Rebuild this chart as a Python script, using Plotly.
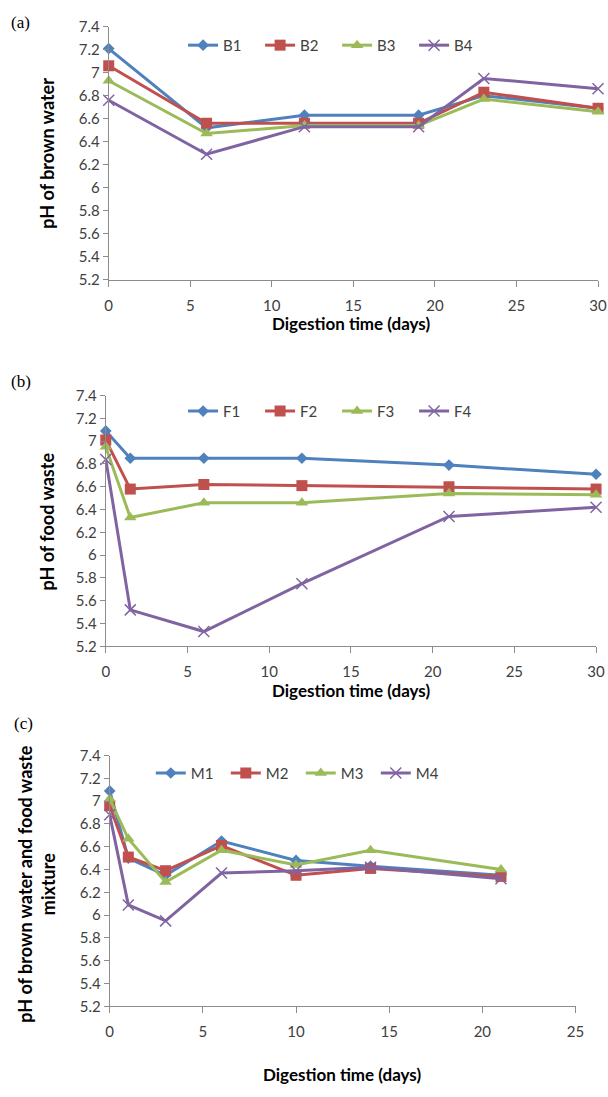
import plotly.graph_objects as go

W, H = 608, 1097

# ---------------- data ----------------
days_a = [0, 6, 12, 19, 23, 30]
B1 = [7.21, 6.52, 6.63, 6.63, 6.80, 6.69]
B2 = [7.06, 6.56, 6.56, 6.56, 6.83, 6.69]
B3 = [6.93, 6.47, 6.54, 6.54, 6.77, 6.66]
B4 = [6.76, 6.29, 6.53, 6.53, 6.95, 6.86]

days_b = [0, 1.5, 6, 12, 21, 30]
F1 = [7.09, 6.85, 6.85, 6.85, 6.79, 6.71]
F2 = [7.01, 6.58, 6.62, 6.61, 6.60, 6.58]
F3 = [6.95, 6.33, 6.46, 6.46, 6.54, 6.53]
F4 = [6.84, 5.52, 5.33, 5.75, 6.34, 6.42]

days_c = [0, 1, 3, 6, 10, 14, 21]
M1 = [7.09, 6.50, 6.35, 6.65, 6.48, 6.43, 6.35]
M2 = [6.96, 6.51, 6.39, 6.61, 6.35, 6.41, 6.34]
M3 = [7.02, 6.67, 6.29, 6.57, 6.44, 6.57, 6.40]
M4 = [6.88, 6.09, 5.95, 6.37, 6.39, 6.42, 6.32]

y_ticks = [5.2, 5.4, 5.6, 5.8, 6, 6.2, 6.4, 6.6, 6.8, 7, 7.2, 7.4]
y_ticktext = ["5.2", "5.4", "5.6", "5.8", "6", "6.2", "6.4", "6.6", "6.8", "7", "7.2", "7.4"]

# ---------------- style ----------------
colors = ["#4F81BD", "#C0504D", "#9BBB59", "#8064A2"]
symbols = ["diamond", "square", "triangle-up", "x-thin"]
sizes = [9, 11, 11, 11]
FONT = "Lato, Open Sans, sans-serif"
TICKC = "#404040"
AXC = "#8C8C8C"

def px_x(p):
    return p / W

def px_y(p):
    return 1 - p / H

panels = [
    dict(days=days_a, series=[B1, B2, B3, B4], names=["B1", "B2", "B3", "B4"],
         xd=[107, 607], yd=[274, 17], xr=[0, 30], legend="legend"),
    dict(days=days_b, series=[F1, F2, F3, F4], names=["F1", "F2", "F3", "F4"],
         xd=[104, 605], yd=[647, 392], xr=[0, 30], legend="legend2"),
    dict(days=days_c, series=[M1, M2, M3, M4], names=["M1", "M2", "M3", "M4"],
         xd=[108, 584], yd=[1013, 758], xr=[0, 25], legend="legend3"),
]

fig = go.Figure()
layout = dict(width=W, height=H, margin=dict(l=0, r=0, t=0, b=0),
              paper_bgcolor="white", plot_bgcolor="white",
              font=dict(family=FONT, color=TICKC))

for i, p in enumerate(panels):
    sfx = "" if i == 0 else str(i + 1)
    for j, (vals, nm) in enumerate(zip(p["series"], p["names"])):
        mk = dict(symbol=symbols[j], size=sizes[j], color=colors[j])
        if symbols[j] == "x-thin":
            mk["line"] = dict(color=colors[j], width=1.5)
        fig.add_trace(go.Scatter(
            x=p["days"], y=vals, name=nm, mode="lines+markers",
            line=dict(color=colors[j], width=3), marker=mk,
            xaxis="x" + sfx, yaxis="y" + sfx, legend=p["legend"],
            cliponaxis=False,
        ))
    layout["xaxis" + sfx] = dict(
        domain=[px_x(p["xd"][0]), px_x(p["xd"][1])], range=p["xr"],
        anchor="y" + sfx, dtick=5, tick0=0, showgrid=False, zeroline=False,
        showline=True, linecolor=AXC, linewidth=1,
        ticks="outside", ticklen=6, tickcolor=AXC,
        ticklabelstandoff=6,
        tickfont=dict(family=FONT, size=15, color=TICKC),
    )
    layout["yaxis" + sfx] = dict(
        domain=[px_y(p["yd"][0]), px_y(p["yd"][1])], range=[5.2, 7.4],
        anchor="x" + sfx, tickvals=y_ticks, ticktext=y_ticktext,
        showgrid=False, zeroline=False,
        showline=True, linecolor=AXC, linewidth=1,
        ticks="outside", ticklen=5, tickcolor=AXC,
        tickfont=dict(family=FONT, size=15, color=TICKC),
    )

leg_common = dict(orientation="h", bgcolor="rgba(0,0,0,0)",
                  font=dict(family=FONT, size=15, color=TICKC),
                  xanchor="left", yanchor="middle",
                  entrywidthmode="pixels", tracegroupgap=0)
layout["legend"] = dict(x=px_x(183), y=px_y(36), entrywidth=32, **leg_common)
layout["legend2"] = dict(x=px_x(183), y=px_y(408), entrywidth=32, **leg_common)
layout["legend3"] = dict(x=px_x(150), y=px_y(776), entrywidth=30, **leg_common)

ann = []
title_font = dict(family=FONT, size=17, color="#000000")
ytitle_font = dict(family=FONT, size=18, color="#000000")

def add_text(text, x, y, font, angle=0):
    ann.append(dict(text=text, x=px_x(x), y=px_y(y), xref="paper", yref="paper",
                    xanchor="center", yanchor="middle", showarrow=False,
                    textangle=angle, font=font))

add_text("<b>Digestion time (days)</b>", 355, 319, title_font)
add_text("<b>Digestion time (days)</b>", 355, 692, title_font)
add_text("<b>Digestion time (days)</b>", 345, 1082, title_font)
add_text("<b>pH of brown water</b>", 44, 146, ytitle_font, -90)
add_text("<b>pH of food waste</b>", 44, 520, ytitle_font, -90)
add_text("<b>pH of brown water and food waste<br>mixture</b>", 33, 888, ytitle_font, -90)
serif = dict(family="Liberation Serif, DejaVu Serif, serif", size=17, color="#000000")
add_text("(a)", 17, 13, serif)
add_text("(b)", 17, 378, serif)
add_text("(c)", 20, 725, serif)
layout["annotations"] = ann

fig.update_layout(**layout)
fig.write_html("out.html")
